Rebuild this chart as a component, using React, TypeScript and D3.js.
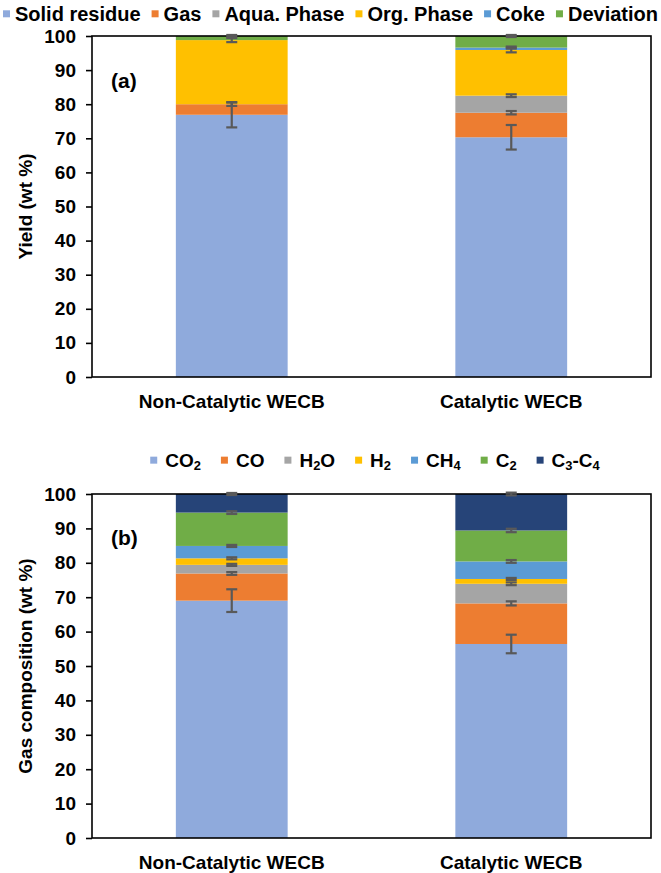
import React, { useRef, useEffect } from 'react';
import * as d3 from 'd3';

// categories on the x axis (both panels)
const categories = ['Non-Catalytic WECB', 'Catalytic WECB'];

// panel (a): product yields
const yieldKeys = ['Solid residue', 'Gas', 'Aqua. Phase', 'Org. Phase', 'Coke', 'Deviation'];
const yieldNonCat = [76.9, 3.1, 0, 18.8, 0, 1.2];
const yieldCat = [70.3, 7.2, 5.0, 13.4, 0.7, 3.4];
const yieldErrNonCat = [3.7, 0.5, 0, 0.6, 0, 0.3];
const yieldErrCat = [3.6, 0.5, 0.4, 0.7, 0.3, 0.3];
const yieldColors = ['#8FAADC', '#ED7D31', '#A5A5A5', '#FFC000', '#5B9BD5', '#70AD47'];

// panel (b): gas composition  ([main text, subscript] pieces)
const gasKeys = [
  [['CO', ''], ['', '2']],
  [['CO', '']],
  [['H', ''], ['', '2'], ['O', '']],
  [['H', ''], ['', '2']],
  [['CH', ''], ['', '4']],
  [['C', ''], ['', '2']],
  [['C', ''], ['', '3'], ['-C', ''], ['', '4']],
];
const gasNonCat = [69.0, 7.9, 2.5, 1.9, 3.6, 9.7, 5.4];
const gasCat = [56.4, 11.8, 5.7, 1.4, 5.1, 9.0, 10.6];
const gasErrNonCat = [3.3, 0.4, 0.3, 0.3, 0.3, 0.4, 0.3];
const gasErrCat = [2.7, 0.6, 0.4, 0.3, 0.4, 0.5, 0.4];
const gasColors = ['#8FAADC', '#ED7D31', '#A5A5A5', '#FFC000', '#5B9BD5', '#70AD47', '#264478'];

const yTicks = [0, 10, 20, 30, 40, 50, 60, 70, 80, 90, 100];

const FONT = '"Liberation Sans", Arial, sans-serif';

function drawPanel(svg, opt) {
  const left = 92, right = 651;
  const { top, bottom, series, errors, colors, title, tag, tagY } = opt;

  const x = d3.scaleBand().domain(categories).range([left, right]).paddingInner(0.6).paddingOuter(0.3);
  const y = d3.scaleLinear().domain([0, 100]).range([bottom, top]);

  const g = svg.append('g');

  // stacked bars
  categories.forEach((c, ci) => {
    let cum = 0;
    series[ci].forEach((v, i) => {
      if (v > 0) {
        g.append('rect')
          .attr('x', x(c))
          .attr('width', x.bandwidth())
          .attr('y', y(cum + v))
          .attr('height', y(cum) - y(cum + v))
          .attr('fill', colors[i]);
      }
      cum += v;
    });
  });

  // frame
  g.append('rect')
    .attr('x', left).attr('y', top)
    .attr('width', right - left).attr('height', bottom - top)
    .attr('fill', 'none').attr('stroke', '#000').attr('stroke-width', 1.6);

  // error bars
  categories.forEach((c, ci) => {
    let cum = 0;
    const cx = x(c) + x.bandwidth() / 2;
    series[ci].forEach((v, i) => {
      cum += v;
      const e = errors[ci][i];
      if (!e) return;
      const eb = g.append('g').attr('stroke', '#595959').attr('stroke-width', 2.2);
      eb.append('line').attr('x1', cx).attr('x2', cx).attr('y1', y(cum - e)).attr('y2', y(cum + e));
      [cum - e, cum + e].forEach(t => {
        eb.append('line').attr('x1', cx - 5.5).attr('x2', cx + 5.5).attr('y1', y(t)).attr('y2', y(t));
      });
    });
  });

  // y axis ticks and labels
  const axis = d3.axisLeft(y).tickValues(yTicks).tickSize(6).tickPadding(10);
  const ax = g.append('g').attr('transform', `translate(${left},0)`).call(axis);
  ax.select('.domain').remove();
  ax.selectAll('line').attr('stroke', '#000').attr('stroke-width', 1.6);
  ax.selectAll('text')
    .attr('font-family', FONT).attr('font-size', 19).attr('font-weight', 'bold').attr('fill', '#000');

  // x labels
  categories.forEach(c => {
    g.append('text')
      .attr('x', x(c) + x.bandwidth() / 2)
      .attr('y', bottom + 31)
      .attr('text-anchor', 'middle')
      .attr('font-family', FONT).attr('font-size', 19).attr('font-weight', 'bold')
      .text(c);
  });

  // y title
  g.append('text')
    .attr('transform', `translate(32,${(top + bottom) / 2}) rotate(-90)`)
    .attr('text-anchor', 'middle')
    .attr('font-family', FONT).attr('font-size', 19).attr('font-weight', 'bold')
    .text(title);

  // panel tag
  g.append('text')
    .attr('x', 111).attr('y', tagY)
    .attr('font-family', FONT).attr('font-size', 21).attr('font-weight', 'bold')
    .text(tag);
}

function drawLegend(svg, items, colors, opt) {
  const { cx, baseline, fontSize, square, textGap, itemGap } = opt;
  const lg = svg.append('g');
  const nodes = items.map((it, i) => {
    const gi = lg.append('g');
    gi.append('rect')
      .attr('width', square).attr('height', square)
      .attr('y', baseline - fontSize * 0.36 - square / 2)
      .attr('fill', colors[i]);
    const t = gi.append('text')
      .attr('x', square + textGap).attr('y', baseline)
      .attr('font-family', FONT).attr('font-size', fontSize).attr('font-weight', 'bold');
    if (typeof it === 'string') {
      t.text(it);
    } else {
      it.forEach(([main, sub]) => {
        if (main) t.append('tspan').attr('font-size', fontSize).attr('dy', 0).text(main);
        if (sub) t.append('tspan').attr('font-size', fontSize * 0.68).attr('dy', 0).attr('baseline-shift', '-25%').text(sub);
      });
    }
    const w = square + textGap + t.node().getComputedTextLength();
    return { gi, w };
  });
  const total = d3.sum(nodes, n => n.w) + itemGap * (nodes.length - 1);
  let xPos = cx - total / 2;
  nodes.forEach(n => {
    n.gi.attr('transform', `translate(${xPos},0)`);
    xPos += n.w + itemGap;
  });
}

export default function App() {
  const svgRef = useRef(null);

  useEffect(() => {
    const svg = d3.select(svgRef.current);
    svg.selectAll('*').remove();

    svg.append('rect').attr('width', 661).attr('height', 873).attr('fill', '#fff');

    drawLegend(svg, yieldKeys, yieldColors, {
      cx: 330.5, baseline: 21, fontSize: 20, square: 7, textGap: 5, itemGap: 11,
    });
    drawPanel(svg, {
      top: 36, bottom: 377,
      series: [yieldNonCat, yieldCat],
      errors: [yieldErrNonCat, yieldErrCat],
      colors: yieldColors,
      title: 'Yield  (wt %)',
      tag: '(a)', tagY: 88,
    });

    drawLegend(svg, gasKeys, gasColors, {
      cx: 375, baseline: 467, fontSize: 19, square: 7, textGap: 8, itemGap: 20,
    });
    drawPanel(svg, {
      top: 494, bottom: 838,
      series: [gasNonCat, gasCat],
      errors: [gasErrNonCat, gasErrCat],
      colors: gasColors,
      title: 'Gas composition (wt %)',
      tag: '(b)', tagY: 545,
    });
  }, []);

  return (
    <svg
      ref={svgRef}
      width={661}
      height={873}
      style={{ position: 'absolute', left: 0, top: 0, display: 'block' }}
    />
  );
}
